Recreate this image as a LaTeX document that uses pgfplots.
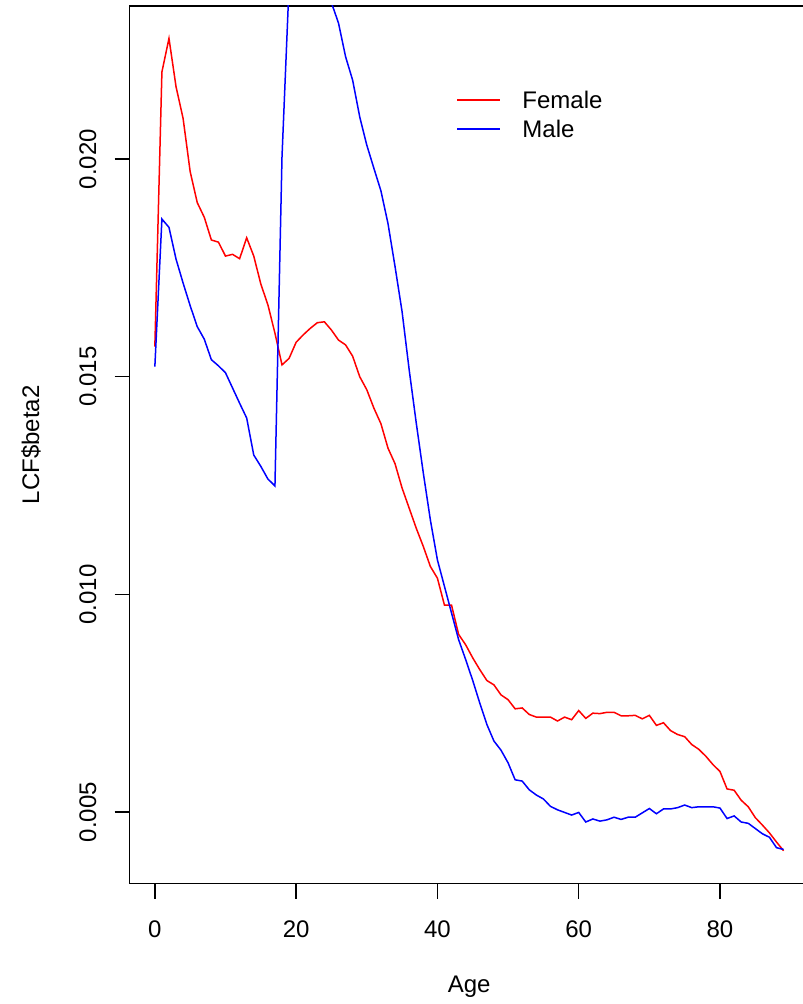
\documentclass[12pt,border=0pt]{standalone}
\usepackage{fontspec}
\setmainfont{Liberation Sans}
\usepackage{pgfplots}
\usepackage{pgfplotstable}
\pgfplotsset{compat=1.18}
\pgfplotstableread{
age val
0 0.01569
1 0.02200
2 0.02277
3 0.02166
4 0.02093
5 0.01971
6 0.01900
7 0.01866
8 0.01814
9 0.01809
10 0.01777
11 0.01781
12 0.01771
13 0.01819
14 0.01777
15 0.01713
16 0.01665
17 0.01600
18 0.01527
19 0.01542
20 0.01579
21 0.01596
22 0.01611
23 0.01624
24 0.01626
25 0.01607
26 0.01584
27 0.01573
28 0.01547
29 0.01500
30 0.01470
31 0.01428
32 0.01392
33 0.01336
34 0.01300
35 0.01244
36 0.01198
37 0.01152
38 0.01110
39 0.01064
40 0.01037
41 0.00975
42 0.00975
43 0.00908
44 0.00884
45 0.00854
46 0.00827
47 0.00802
48 0.00792
49 0.00769
50 0.00758
51 0.00737
52 0.00739
53 0.00724
54 0.00718
55 0.00718
56 0.00718
57 0.00709
58 0.00718
59 0.00712
60 0.00733
61 0.00715
62 0.00727
63 0.00726
64 0.00729
65 0.00729
66 0.00721
67 0.00721
68 0.00722
69 0.00714
70 0.00722
71 0.00699
72 0.00705
73 0.00687
74 0.00678
75 0.00673
76 0.00655
77 0.00644
78 0.00628
79 0.00609
80 0.00593
81 0.00553
82 0.00550
83 0.00527
84 0.00512
85 0.00487
86 0.00470
87 0.00452
88 0.00431
89 0.00411
}\female
\pgfplotstableread{
age val
0 0.01523
1 0.01862
2 0.01843
3 0.01770
4 0.01715
5 0.01663
6 0.01615
7 0.01586
8 0.01539
9 0.01525
10 0.01509
11 0.01474
12 0.01439
13 0.01405
14 0.01320
15 0.01294
16 0.01265
17 0.01249
18 0.02005
19 0.02400
20 0.02450
21 0.02480
22 0.02490
23 0.02480
24 0.02440
25 0.02359
26 0.02312
27 0.02235
28 0.02181
29 0.02097
30 0.02032
31 0.01979
32 0.01927
33 0.01852
34 0.01753
35 0.01649
36 0.01516
37 0.01394
38 0.01279
39 0.01171
40 0.01079
41 0.01018
42 0.00957
43 0.00896
44 0.00850
45 0.00802
46 0.00750
47 0.00701
48 0.00663
49 0.00642
50 0.00613
51 0.00574
52 0.00571
53 0.00551
54 0.00539
55 0.00530
56 0.00513
57 0.00505
58 0.00499
59 0.00493
60 0.00499
61 0.00477
62 0.00484
63 0.00479
64 0.00482
65 0.00488
66 0.00483
67 0.00488
68 0.00488
69 0.00498
70 0.00508
71 0.00496
72 0.00507
73 0.00507
74 0.00510
75 0.00516
76 0.00510
77 0.00512
78 0.00512
79 0.00512
80 0.00509
81 0.00485
82 0.00491
83 0.00477
84 0.00474
85 0.00462
86 0.00450
87 0.00442
88 0.00418
89 0.00414
}\male
\begin{document}
\begin{tikzpicture}
\begin{axis}[
  at={(0pt,0pt)}, anchor=south west,
  scale only axis, width=339.5pt, height=438.85pt,
  xmin=-3.56, xmax=92.56, ymin=0.003353, ymax=0.023515,
  xtick={0,20,40,60,80}, ytick={0.005,0.010,0.015,0.020},
  scaled y ticks=false,
  tick align=outside, xtick pos=left, ytick pos=left,
  major tick length=7.5pt,
  every tick/.style={black, line width=0.75pt},
  axis line style={line width=0.75pt},
  /pgf/number format/assume math mode=true,
  yticklabel style={/pgf/number format/.cd, fixed, fixed zerofill, precision=3, /tikz/.cd, rotate=90, anchor=center, inner sep=0pt},
  xticklabel style={anchor=center, inner sep=0pt},
  xticklabel shift=15.3pt,
  yticklabel shift=13.4pt,
  xlabel={Age}, ylabel={LCF\$beta2},
  xlabel style={at={(axis description cs:0.5,-0.1173)}, anchor=center, inner sep=0pt},
  ylabel style={at={(axis description cs:-0.1454,0.5)}, anchor=center, inner sep=0pt},
  legend cell align=left,
  legend style={at={(axis description cs:0.4810,0.9027)}, anchor=north west, draw=none, fill=none,
    inner sep=0pt, outer sep=0pt, row sep=5.9pt,
    nodes={inner sep=0pt, outer sep=0pt, text height=8.6pt, text depth=0pt}},
  legend image code/.code={\draw[#1, line width=0.75pt] (0pt,0pt) -- (21.7pt,0pt); \path (32.3pt,0pt);},
]
\addplot[red, line width=0.75pt] table[x=age, y=val] {\female};
\addlegendentry{Female}
\addplot[blue, line width=0.75pt] table[x=age, y=val] {\male};
\addlegendentry{Male}
\end{axis}
\pgfresetboundingbox
\path[use as bounding box] (-64.85pt,-60.15pt) rectangle (336.15pt,441.85pt);
\end{tikzpicture}
\end{document}
